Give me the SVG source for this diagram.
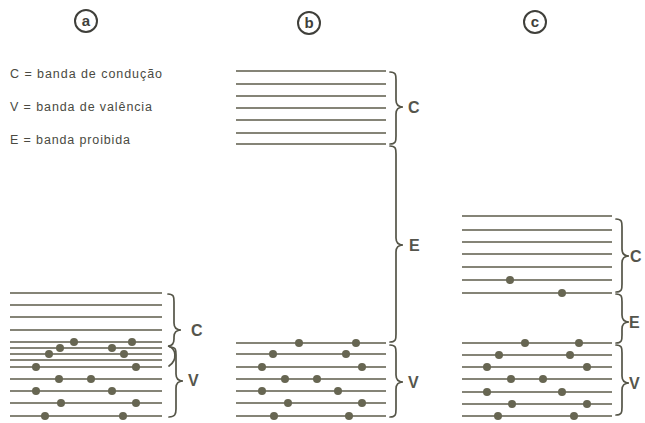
<svg xmlns="http://www.w3.org/2000/svg" width="645" height="423" viewBox="0 0 645 423">
<style>
.ln{stroke:#5c5b4a;stroke-width:1.5;fill:none}
.dot{fill:#676652}
.br{fill:none;stroke:#555548;stroke-width:1.7;stroke-linecap:round}
.lbl{font-family:"Liberation Sans",Arial,sans-serif;font-size:16px;font-weight:bold;fill:#55554c}
.leg{font-family:"Liberation Sans",Arial,sans-serif;font-size:12.5px;fill:#4a4a42}
.circ{fill:none;stroke:#3f3f3a;stroke-width:2}
.ctx{font-family:"Liberation Sans",Arial,sans-serif;font-size:15px;font-weight:bold;fill:#3f3f3a}
</style>
<rect width="645" height="423" fill="#ffffff"/>
<g id="title-a"><circle class="circ" cx="86" cy="21" r="11"/><text class="ctx" x="86" y="26" text-anchor="middle">a</text></g>
<g id="title-b"><circle class="circ" cx="309" cy="23" r="11"/><text class="ctx" x="309" y="28" text-anchor="middle">b</text></g>
<g id="title-c"><circle class="circ" cx="535" cy="22" r="11"/><text class="ctx" x="535" y="27" text-anchor="middle">c</text></g>
<g id="legend">
<text class="leg" x="10" y="78" textLength="152">C  =  banda de condução</text>
<text class="leg" x="10" y="111" textLength="142">V  =  banda de valência</text>
<text class="leg" x="10" y="144" textLength="120">E  =  banda proibida</text>
</g>
<g id="panel-a">
<g id="a-lines">
<line class="ln" x1="10" y1="293" x2="162" y2="293"/>
<line class="ln" x1="10" y1="305" x2="162" y2="305"/>
<line class="ln" x1="10" y1="317" x2="162" y2="317"/>
<line class="ln" x1="10" y1="330" x2="162" y2="330"/>
<line class="ln" x1="10" y1="342" x2="162" y2="342"/>
<line class="ln" x1="10" y1="348" x2="162" y2="348"/>
<line class="ln" x1="10" y1="354" x2="162" y2="354"/>
<line class="ln" x1="10" y1="360" x2="162" y2="360"/>
<line class="ln" x1="10" y1="367" x2="162" y2="367"/>
<line class="ln" x1="10" y1="379" x2="162" y2="379"/>
<line class="ln" x1="10" y1="391" x2="162" y2="391"/>
<line class="ln" x1="10" y1="403" x2="162" y2="403"/>
<line class="ln" x1="10" y1="416" x2="162" y2="416"/>
</g>
<g id="a-electrons">
<circle class="dot" cx="74" cy="342" r="4"/><circle class="dot" cx="132" cy="342" r="4"/>
<circle class="dot" cx="60" cy="348" r="4"/><circle class="dot" cx="112" cy="348" r="4"/>
<circle class="dot" cx="49" cy="354" r="4"/><circle class="dot" cx="124" cy="354" r="4"/>
<circle class="dot" cx="36" cy="367" r="4"/><circle class="dot" cx="136" cy="367" r="4"/>
<circle class="dot" cx="59" cy="379" r="4"/><circle class="dot" cx="91" cy="379" r="4"/>
<circle class="dot" cx="36" cy="391" r="4"/><circle class="dot" cx="112" cy="391" r="4"/>
<circle class="dot" cx="61" cy="403" r="4"/><circle class="dot" cx="136" cy="403" r="4"/>
<circle class="dot" cx="45" cy="416" r="4"/><circle class="dot" cx="123" cy="416" r="4"/>
</g>
<g id="a-braces">
<path class="br" d="M168,294 C174,294 174,297 174,302 L174,323 C174,327 176,330 181,330 C176,330 174,333 174,337 L174,339 C174,343 173,346 168,346 C176,348 178,360 169,366"/>
<path class="br" d="M170,347 C176,347 176,350 176,355 L176,374 C176,378 178,381 183,381 C178,381 176,384 176,388 L176,409 C176,414 175,417 169,417"/>
<text class="lbl" x="191" y="336">C</text>
<text class="lbl" x="188" y="386">V</text>
</g>
</g>
<g id="panel-b">
<g id="b-lines">
<line class="ln" x1="236" y1="71" x2="386" y2="71"/>
<line class="ln" x1="236" y1="84" x2="386" y2="84"/>
<line class="ln" x1="236" y1="96" x2="386" y2="96"/>
<line class="ln" x1="236" y1="108" x2="386" y2="108"/>
<line class="ln" x1="236" y1="120" x2="386" y2="120"/>
<line class="ln" x1="236" y1="133" x2="386" y2="133"/>
<line class="ln" x1="236" y1="144" x2="386" y2="144"/>
<line class="ln" x1="236" y1="343" x2="386" y2="343"/>
<line class="ln" x1="236" y1="354" x2="386" y2="354"/>
<line class="ln" x1="236" y1="367" x2="386" y2="367"/>
<line class="ln" x1="236" y1="379" x2="386" y2="379"/>
<line class="ln" x1="236" y1="391" x2="386" y2="391"/>
<line class="ln" x1="236" y1="403" x2="386" y2="403"/>
<line class="ln" x1="236" y1="416" x2="386" y2="416"/>
</g>
<g id="b-electrons">
<circle class="dot" cx="299" cy="343" r="4"/><circle class="dot" cx="356" cy="343" r="4"/>
<circle class="dot" cx="273" cy="354" r="4"/><circle class="dot" cx="346" cy="354" r="4"/>
<circle class="dot" cx="262" cy="367" r="4"/><circle class="dot" cx="362" cy="367" r="4"/>
<circle class="dot" cx="285" cy="379" r="4"/><circle class="dot" cx="317" cy="379" r="4"/>
<circle class="dot" cx="262" cy="391" r="4"/><circle class="dot" cx="338" cy="391" r="4"/>
<circle class="dot" cx="288" cy="403" r="4"/><circle class="dot" cx="362" cy="403" r="4"/>
<circle class="dot" cx="274" cy="416" r="4"/><circle class="dot" cx="349" cy="416" r="4"/>
</g>
<g id="b-braces">
<path class="br" d="M390,72 C396,72 396,75 396,80 L396,100 C396,104 398,107 403,107 C398,107 396,110 396,114 L396,136 C396,141 396,144 390,144"/>
<path class="br" d="M390,146 C396,146 396,149 396,154 L396,238 C396,242 398,245 403,245 C398,245 396,248 396,252 L396,334 C396,339 396,342 390,342"/>
<path class="br" d="M390,345 C396,345 396,348 396,353 L396,375 C396,379 398,382 403,382 C398,382 396,385 396,389 L396,409 C396,414 396,417 390,417"/>
<text class="lbl" x="408" y="113">C</text>
<text class="lbl" x="409" y="251">E</text>
<text class="lbl" x="408" y="388">V</text>
</g>
</g>
<g id="panel-c">
<g id="c-lines">
<line class="ln" x1="462" y1="216" x2="612" y2="216"/>
<line class="ln" x1="462" y1="230" x2="612" y2="230"/>
<line class="ln" x1="462" y1="242" x2="612" y2="242"/>
<line class="ln" x1="462" y1="254" x2="612" y2="254"/>
<line class="ln" x1="462" y1="267" x2="612" y2="267"/>
<line class="ln" x1="462" y1="280" x2="612" y2="280"/>
<line class="ln" x1="462" y1="293" x2="612" y2="293"/>
<line class="ln" x1="462" y1="343" x2="612" y2="343"/>
<line class="ln" x1="462" y1="355" x2="612" y2="355"/>
<line class="ln" x1="462" y1="367" x2="612" y2="367"/>
<line class="ln" x1="462" y1="379" x2="612" y2="379"/>
<line class="ln" x1="462" y1="392" x2="612" y2="392"/>
<line class="ln" x1="462" y1="404" x2="612" y2="404"/>
<line class="ln" x1="462" y1="416" x2="612" y2="416"/>
</g>
<g id="c-electrons">
<circle class="dot" cx="510" cy="280" r="4"/><circle class="dot" cx="562" cy="293" r="4"/>
<circle class="dot" cx="525" cy="343" r="4"/><circle class="dot" cx="579" cy="343" r="4"/>
<circle class="dot" cx="499" cy="355" r="4"/><circle class="dot" cx="570" cy="355" r="4"/>
<circle class="dot" cx="487" cy="367" r="4"/><circle class="dot" cx="587" cy="367" r="4"/>
<circle class="dot" cx="511" cy="379" r="4"/><circle class="dot" cx="543" cy="379" r="4"/>
<circle class="dot" cx="487" cy="392" r="4"/><circle class="dot" cx="562" cy="392" r="4"/>
<circle class="dot" cx="512" cy="404" r="4"/><circle class="dot" cx="587" cy="404" r="4"/>
<circle class="dot" cx="498" cy="416" r="4"/><circle class="dot" cx="574" cy="416" r="4"/>
</g>
<g id="c-braces">
<path class="br" d="M616,219 C622,219 622,222 622,227 L622,249 C622,253 624,256 629,256 C624,256 622,259 622,263 L622,284 C622,289 622,292 616,292"/>
<path class="br" d="M616,294 C622,294 622,297 622,302 L622,315 C622,319 624,322 629,322 C624,322 622,325 622,329 L622,335 C622,340 622,343 616,343"/>
<path class="br" d="M616,345 C622,345 622,348 622,353 L622,376 C622,380 624,383 629,383 C624,383 622,386 622,390 L622,407 C622,412 622,415 616,415"/>
<text class="lbl" x="630" y="262">C</text>
<text class="lbl" x="629" y="328">E</text>
<text class="lbl" x="629" y="389">V</text>
</g>
</g>
</svg>
